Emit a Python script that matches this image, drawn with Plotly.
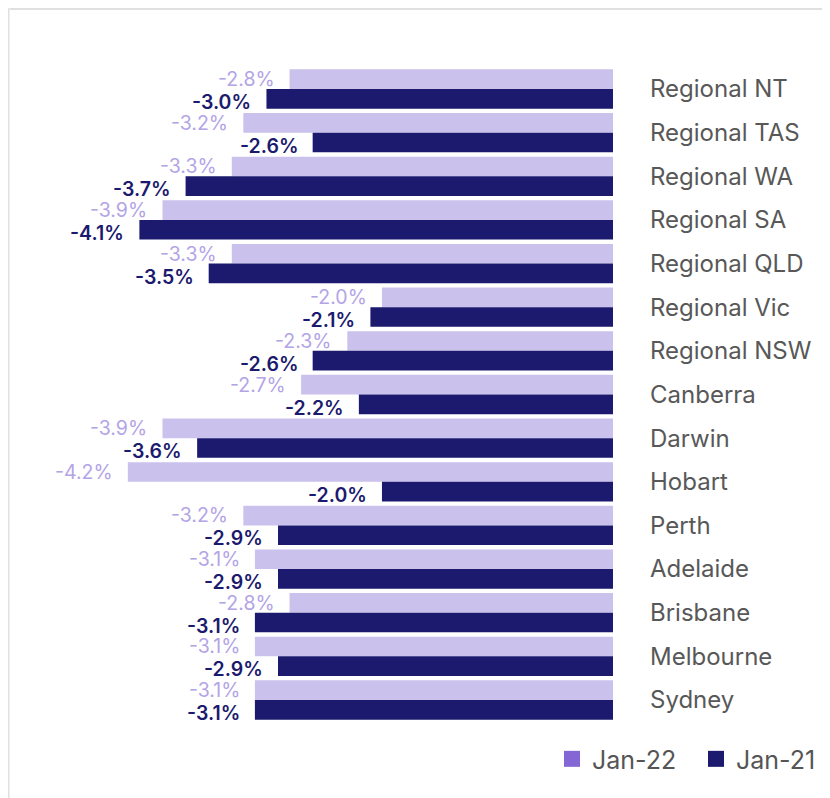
import plotly.graph_objects as go

categories = ["Regional NT", "Regional TAS", "Regional WA", "Regional SA", "Regional QLD",
              "Regional Vic", "Regional NSW", "Canberra", "Darwin", "Hobart",
              "Perth", "Adelaide", "Brisbane", "Melbourne", "Sydney"]
jan22 = [-2.8, -3.2, -3.3, -3.9, -3.3, -2.0, -2.3, -2.7, -3.9, -4.2, -3.2, -3.1, -2.8, -3.1, -3.1]
jan21 = [-3.0, -2.6, -3.7, -4.1, -3.5, -2.1, -2.6, -2.2, -3.6, -2.0, -2.9, -2.9, -3.1, -2.9, -3.1]
series_names = ["Jan-22", "Jan-21"]

bar_colors = ["#cbc1ed", "#1b1a6e"]
legend_colors = ["#8466d4", "#1b1a6e"]
label_colors = ["#b3a4e6", "#1b1a6e"]
label_weights = [400, 600]
label_yshift = [10, -13]
legend_ids = ["legend", "legend2"]

fig = go.Figure()
for name, vals, bc in zip(series_names, [jan22, jan21], bar_colors):
    fig.add_trace(go.Bar(
        y=categories, x=vals, orientation="h", name=name,
        marker=dict(color=bc, line=dict(width=0)),
        showlegend=False, hoverinfo="skip",
    ))

for name, lc, lid in zip(series_names, legend_colors, legend_ids):
    fig.add_trace(go.Scatter(
        x=[None], y=[None], mode="markers", name=name,
        marker=dict(symbol="square", size=16, color=lc),
        showlegend=True, legend=lid,
    ))

annotations = []
for vals, lc, w, ys in zip([jan22, jan21], label_colors, label_weights, label_yshift):
    for cat, v in zip(categories, vals):
        annotations.append(dict(
            x=v, y=cat, xref="x", yref="y", text=f"{v:.1f}%",
            showarrow=False, xanchor="right", yanchor="middle",
            xshift=-13, yshift=ys,
            font=dict(family="Inter", size=19.5, color=lc, weight=w),
        ))

legend_common = dict(orientation="h", xanchor="right", y=-0.053, yanchor="middle",
                     font=dict(size=25, color="#555555"), itemwidth=30)

fig.update_layout(
    width=822, height=790,
    margin=dict(l=2, r=217, t=54, b=74),
    paper_bgcolor="white", plot_bgcolor="white",
    barmode="group", bargap=0.1, bargroupgap=0.0,
    font=dict(family="Inter", color="#555555"),
    xaxis=dict(range=[-5.22, 0], showgrid=False, zeroline=False,
               showticklabels=False, ticks=""),
    yaxis=dict(autorange="reversed", side="right", showgrid=False,
               tickfont=dict(size=24, color="#585858"),
               ticks="", ticklabelstandoff=36, showline=False),
    legend=dict(x=(682 - 10) / 603, **legend_common),
    legend2=dict(x=(821 - 10) / 603, **legend_common),
    annotations=annotations,
    shapes=[
        dict(type="line", xref="paper", yref="paper", x0=0.0, x1=1.4,
             y0=1.0, y1=1.0, line=dict(color="#e0e0e0", width=2)),
        dict(type="line", xref="paper", yref="paper", x0=0.0, x1=0.0,
             y0=1.2, y1=-0.2, line=dict(color="#e0e0e0", width=2)),
    ],
)
plot_h = 790 - 54 - 74
fig.layout.shapes[0].update(y0=1 + 53 / plot_h, y1=1 + 53 / plot_h)
fig.layout.shapes[1].update(x0=-1.5 / 603, x1=-1.5 / 603)

fig.write_html("out.html")
